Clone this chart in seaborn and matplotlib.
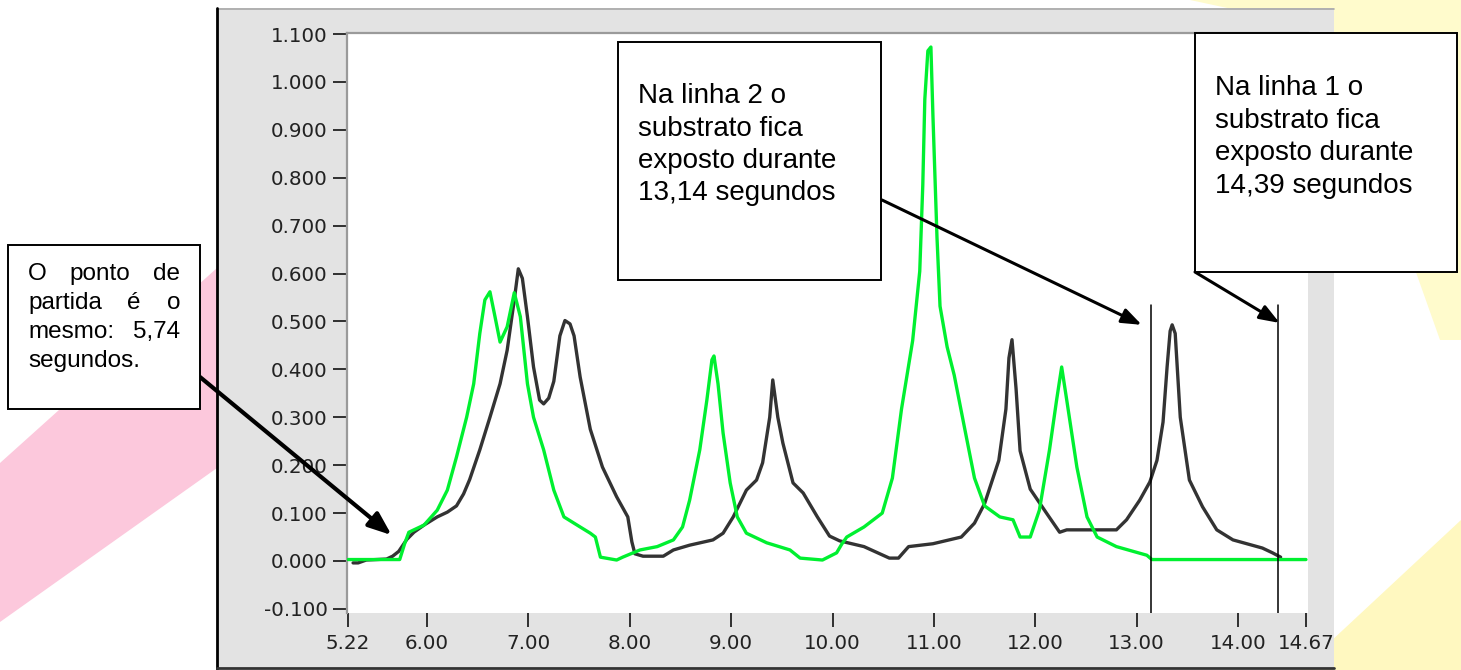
import matplotlib
matplotlib.use("Agg")
import matplotlib.pyplot as plt
import seaborn as sns
import pandas as pd
from matplotlib.patches import Rectangle, Polygon
from matplotlib.lines import Line2D

# ---------------- data ----------------
black_t = [5.27, 5.32, 5.40, 5.60, 5.66, 5.72, 5.80, 5.87, 5.97, 6.10, 6.20, 6.29, 6.36, 6.42,
           6.52, 6.62, 6.72, 6.79, 6.86, 6.90, 6.94, 6.99, 7.05, 7.11, 7.15, 7.20, 7.25, 7.31,
           7.36, 7.41, 7.45, 7.51, 7.61, 7.73, 7.87, 7.98, 8.02, 8.05, 8.13, 8.33, 8.43, 8.59,
           8.82, 8.92, 9.02, 9.15, 9.25, 9.31, 9.38, 9.41, 9.46, 9.51, 9.61, 9.71, 9.85, 9.97,
           10.07, 10.31, 10.56, 10.65, 10.75, 10.99, 11.27, 11.40, 11.50, 11.64, 11.71, 11.74,
           11.77, 11.81, 11.85, 11.95, 12.11, 12.24, 12.31, 12.50, 12.80, 12.90, 13.03, 13.13,
           13.20, 13.26, 13.30, 13.33, 13.35, 13.38, 13.43, 13.52, 13.65, 13.79, 13.95, 14.24,
           14.34, 14.42]
black_v = [-0.004, -0.004, 0.002, 0.004, 0.010, 0.020, 0.045, 0.060, 0.075, 0.092, 0.102, 0.115,
           0.140, 0.170, 0.232, 0.300, 0.370, 0.440, 0.545, 0.610, 0.590, 0.510, 0.405, 0.336,
           0.328, 0.340, 0.375, 0.470, 0.502, 0.495, 0.470, 0.384, 0.275, 0.196, 0.134, 0.092,
           0.040, 0.015, 0.010, 0.010, 0.023, 0.033, 0.044, 0.058, 0.092, 0.148, 0.169, 0.205,
           0.300, 0.378, 0.300, 0.246, 0.163, 0.142, 0.092, 0.052, 0.042, 0.030, 0.006, 0.006,
           0.030, 0.036, 0.050, 0.079, 0.120, 0.210, 0.317, 0.424, 0.462, 0.360, 0.230, 0.150,
           0.100, 0.060, 0.065, 0.065, 0.065, 0.086, 0.127, 0.165, 0.210, 0.290, 0.405, 0.480,
           0.493, 0.475, 0.300, 0.169, 0.113, 0.065, 0.044, 0.027, 0.017, 0.008]

green_t = [5.22, 5.73, 5.78, 5.82, 5.97, 6.10, 6.20, 6.29, 6.39, 6.46, 6.52, 6.57, 6.62, 6.67,
           6.72, 6.79, 6.86, 6.92, 6.99, 7.05, 7.15, 7.25, 7.35, 7.51, 7.61, 7.66, 7.71, 7.87,
           7.93, 8.10, 8.27, 8.43, 8.52, 8.59, 8.69, 8.76, 8.81, 8.83, 8.87, 8.92, 8.99, 9.06,
           9.15, 9.35, 9.58, 9.68, 9.90, 10.04, 10.09, 10.14, 10.31, 10.49, 10.59, 10.68, 10.79,
           10.86, 10.89, 10.91, 10.94, 10.97, 10.99, 11.03, 11.06, 11.13, 11.20, 11.30, 11.40,
           11.50, 11.65, 11.78, 11.85, 11.95, 12.04, 12.14, 12.21, 12.26, 12.31, 12.41, 12.51,
           12.61, 12.80, 13.10, 13.15, 14.67]
green_v = [0.003, 0.003, 0.037, 0.060, 0.075, 0.106, 0.148, 0.217, 0.300, 0.370, 0.475, 0.545,
           0.562, 0.510, 0.457, 0.489, 0.560, 0.510, 0.370, 0.300, 0.232, 0.148, 0.092, 0.071,
           0.058, 0.050, 0.008, 0.002, 0.008, 0.023, 0.030, 0.044, 0.071, 0.127, 0.232, 0.336,
           0.420, 0.428, 0.370, 0.267, 0.163, 0.092, 0.058, 0.038, 0.023, 0.006, 0.002, 0.017,
           0.035, 0.050, 0.071, 0.100, 0.173, 0.317, 0.460, 0.605, 0.785, 0.964, 1.065, 1.073,
           0.930, 0.676, 0.532, 0.447, 0.388, 0.280, 0.173, 0.115, 0.092, 0.086, 0.050, 0.050,
           0.106, 0.232, 0.336, 0.405, 0.336, 0.196, 0.092, 0.050, 0.030, 0.012, 0.003, 0.003]

marker_t = [13.14, 14.39]          # vertical lines
marker_top = 0.534

xticks = [5.22, 6, 7, 8, 9, 10, 11, 12, 13, 14, 14.67]
xtick_labels = ["5.22", "6.00", "7.00", "8.00", "9.00", "10.00", "11.00", "12.00",
                "13.00", "14.00", "14.67"]
yticks = [1.1, 1.0, 0.9, 0.8, 0.7, 0.6, 0.5, 0.4, 0.3, 0.2, 0.1, 0.0, -0.1]
ytick_labels = ["1.100", "1.000", "0.900", "0.800", "0.700", "0.600", "0.500", "0.400",
                "0.300", "0.200", "0.100", "0.000", "-0.100"]

box1_lines = [["O", "ponto", "de"], ["partida", "é", "o"], ["mesmo:", "5,74"], ["segundos."]]
box2_lines = ["Na linha 2 o", "substrato fica", "exposto durante", "13,14 segundos"]
box3_lines = ["Na linha 1 o", "substrato fica", "exposto durante", "14,39 segundos"]

arrow1_tip = (5.65, 0.054)
arrow2_tip = (13.05, 0.493)
arrow3_tip = (14.41, 0.497)

# ---------------- figure ----------------
W, H = 1461, 670
sns.set_style("white")
plt.rcParams["font.family"] = ["DejaVu Sans"]

fig = plt.figure(figsize=(W / 100, H / 100), dpi=100)
fig.patch.set_facecolor("white")


def fp(x, y):
    return (x / W, 1 - y / H)


# decorative background strokes
fig.add_artist(Polygon([fp(0, 463), fp(217, 268), fp(217, 468), fp(0, 622)],
                       closed=True, transform=fig.transFigure, fc="#fcc8dc", ec="none", zorder=-3))
fig.add_artist(Polygon([fp(1190, 0), fp(1461, 0), fp(1461, 340), fp(1440, 340), fp(1330, 30)],
                       closed=True, transform=fig.transFigure, fc="#fffbcc", ec="none", zorder=-3))
fig.add_artist(Polygon([fp(1461, 520), fp(1461, 670), fp(1300, 670)],
                       closed=True, transform=fig.transFigure, fc="#fff8c0", ec="none", zorder=-3))

# gray instrument panel
fig.add_artist(Rectangle(fp(217, 668), (1334 - 217) / W, (668 - 8) / H,
                         transform=fig.transFigure, fc="#e3e3e3", ec="none", zorder=-2))
fig.add_artist(Line2D([217 / W, 1334 / W], [1 - 9 / H, 1 - 9 / H], transform=fig.transFigure,
                      color="#a8a8a8", lw=1.2, zorder=-1))
fig.add_artist(Line2D([217 / W, 217 / W], [1 - 8 / H, 1 - 669 / H], transform=fig.transFigure,
                      color="black", lw=2.0, zorder=-1))
fig.add_artist(Line2D([217 / W, 1334 / W], [1 - 668 / H, 1 - 668 / H], transform=fig.transFigure,
                      color="#333333", lw=2.0, zorder=-1))

ax = fig.add_axes([347 / W, (670 - 613) / H, (1308 - 347) / W, (613 - 33) / H])
ax.set_facecolor("white")

df_black = pd.DataFrame({"t": black_t, "v": black_v})
df_green = pd.DataFrame({"t": green_t, "v": green_v})
sns.lineplot(data=df_black, x="t", y="v", color="#333333", lw=2.4, ax=ax,
             sort=False, estimator=None, zorder=2)
sns.lineplot(data=df_green, x="t", y="v", color="#00f030", lw=2.4, ax=ax,
             sort=False, estimator=None, zorder=3)

ax.set_xlim(5.21, 14.69)
ax.set_ylim(-0.1086, 1.1023)
frac = (marker_top - (-0.1086)) / (1.1023 + 0.1086)
for m in marker_t:
    ax.axvline(m, ymin=0, ymax=frac, color="black", lw=1.1, zorder=4)

ax.set_xticks(xticks)
ax.set_xticklabels(xtick_labels)
ax.set_yticks(yticks)
ax.set_yticklabels(ytick_labels)
ax.tick_params(axis="x", direction="out", length=10, width=1.3, pad=5,
               labelsize=14.3, colors="#222222", bottom=True)
ax.tick_params(axis="y", direction="out", length=10, width=1.3, pad=4,
               labelsize=14.3, colors="#222222", left=True)
ax.set_xlabel("")
ax.set_ylabel("")
for s in ["bottom", "right"]:
    ax.spines[s].set_visible(False)
for s in ["left", "top"]:
    ax.spines[s].set_color("#9a9a9a")
    ax.spines[s].set_linewidth(1.6)

# ---------------- annotation boxes ----------------
def box(x0, y0, x1, y1):
    fig.add_artist(Rectangle(fp(x0, y1), (x1 - x0) / W, (y1 - y0) / H,
                             transform=fig.transFigure, fc="white", ec="black",
                             lw=1.4, zorder=6))


box(8, 245, 200, 409)
box(618, 42, 881, 280)
box(1195, 33, 1457, 272)

tfont = dict(family=["Liberation Sans", "DejaVu Sans"], color="black", zorder=7)

renderer = fig.canvas.get_renderer()
b1_base = [280, 309, 338, 367]
for words, yb in zip(box1_lines, b1_base):
    txts = [fig.text(0, 0, w, fontsize=17.5, va="baseline", ha="left", **tfont) for w in words]
    if len(words) == 1:
        txts[0].set_position(fp(28, yb))
        continue
    widths = [t.get_window_extent(renderer).width for t in txts]
    gap = (180 - 28 - sum(widths)) / (len(words) - 1)
    x = 28
    for t, w in zip(txts, widths):
        t.set_position(fp(x, yb))
        x += w + gap

for line, yb in zip(box2_lines, [103, 136, 168, 200]):
    fig.text(*fp(638, yb), line, fontsize=20, va="baseline", ha="left", **tfont)
for line, yb in zip(box3_lines, [95, 128, 160, 193]):
    fig.text(*fp(1215, yb), line, fontsize=20, va="baseline", ha="left", **tfont)

# ---------------- arrows ----------------
def arrow(tip, start_px, lw, hl, hw):
    ax.annotate("", xy=tip, xycoords="data", xytext=(start_px[0], H - start_px[1]),
                textcoords="figure pixels", annotation_clip=False, zorder=8,
                arrowprops=dict(arrowstyle=f"-|>,head_length={hl},head_width={hw}",
                                mutation_scale=1, lw=lw, color="black",
                                shrinkA=0, shrinkB=0))


arrow(arrow1_tip, (200, 377), 3.0, 14, 5.5)
arrow(arrow2_tip, (882, 200), 2.2, 12, 4.5)
arrow(arrow3_tip, (1195, 272), 2.2, 12, 4.5)

fig.savefig("out.png", dpi=100, facecolor=fig.get_facecolor())
